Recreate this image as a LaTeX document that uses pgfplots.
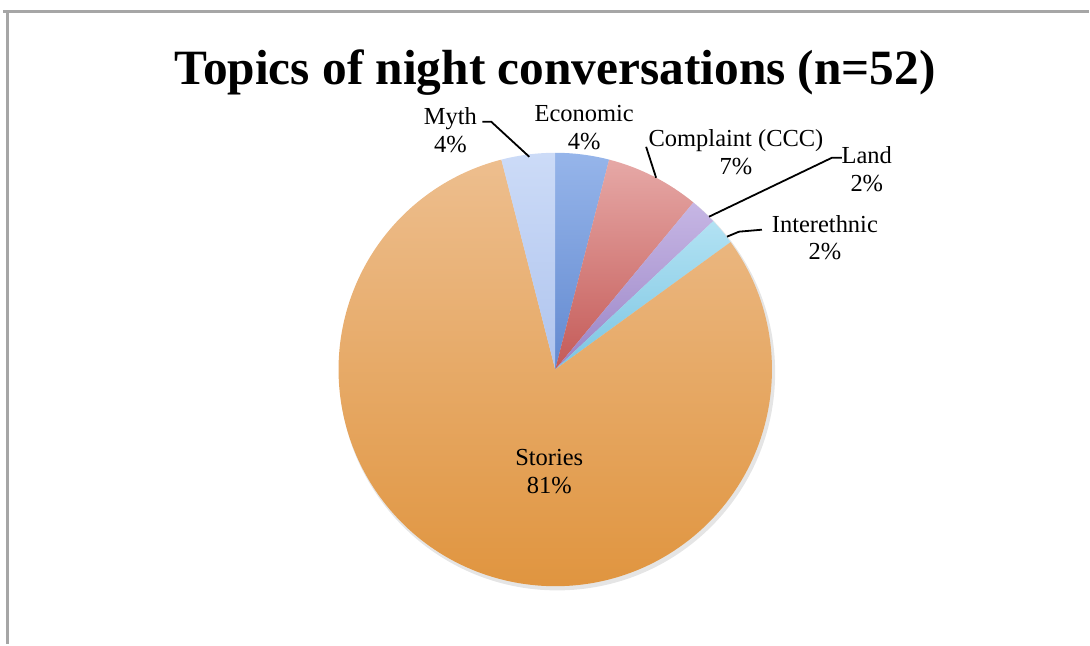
\documentclass[border=0pt]{standalone}
\usepackage{pgfplots}
\pgfplotsset{compat=1.18}
\usepackage{fontspec}
\setmainfont{Liberation Serif}

\definecolor{storyT}{HTML}{EDBE8E}
\definecolor{storyB}{HTML}{DF923A}
\definecolor{mythT}{HTML}{CCDBF7}
\definecolor{mythB}{HTML}{AFC4EE}
\definecolor{econT}{HTML}{96B5EA}
\definecolor{econB}{HTML}{6289D0}
\definecolor{complT}{HTML}{E6A8A6}
\definecolor{complB}{HTML}{C45A57}
\definecolor{landT}{HTML}{C6B6E4}
\definecolor{landB}{HTML}{9A84C6}
\definecolor{interT}{HTML}{B2E2F3}
\definecolor{interB}{HTML}{7CC5E2}

% pie centre (pixels) and radius
\newcommand{\cx}{556}
\newcommand{\cy}{370}
\newcommand{\R}{108.5bp}
% #1 percent before this slice, #2 percent of slice, #3/#4 top/bottom colour
\newcommand{\slice}[4]{%
  \shade[top color=#3, bottom color=#4]
    (axis cs:\cx,\cy) -- ++({90-3.6*#1}:\R)
    arc[start angle={90-3.6*#1}, end angle={90-3.6*(#1+#2)}, radius=\R] -- cycle;
}

\begin{document}
\begin{tikzpicture}
\begin{axis}[
    width=545bp, height=322.5bp, scale only axis,
    xmin=0, xmax=1090, ymin=0, ymax=645, y dir=reverse,
    hide axis, clip=false,
]
    % keep the whole canvas as bounding box
    \path (axis cs:0,0) rectangle (axis cs:1090,645);

    % frame of the chart area
    \draw[gray!70, line width=1.5bp] (axis cs:3,12) -- (axis cs:1090,12);
    \draw[gray!70, line width=1.5bp] (axis cs:8,12) -- (axis cs:8,645);

    \node[font=\bfseries\fontsize{24.8}{28}\selectfont] at (axis cs:556,73)
        {Topics of night conversations (n=52)};

    % soft shadow
    \fill[black, opacity=0.10] (axis cs:558,373) circle[radius=\R+0.6bp];

    % slices, clockwise from 12 o'clock
    \slice{0}{4}{econT}{econB}
    \slice{4}{7}{complT}{complB}
    \slice{11}{2}{landT}{landB}
    \slice{13}{2}{interT}{interB}
    \slice{15}{81}{storyT}{storyB}
    \slice{96}{4}{mythT}{mythB}

    % labels
    \begin{scope}[every node/.style={font=\fontsize{12.3}{14}\selectfont, align=center, inner sep=0pt}]
    \node at (axis cs:451,130) {Myth\\4\%};
    \node at (axis cs:585,128) {Economic\\4\%};
    \node at (axis cs:737,152) {Complaint (CCC)\\7\%};
    \node at (axis cs:868,169) {Land\\2\%};
    \node at (axis cs:826,238) {Interethnic\\2\%};
    \node at (axis cs:550,472) {Stories\\81\%};
    \end{scope}

    % leader lines
    \begin{scope}[line width=0.9bp]
    \draw (axis cs:483,122) -- (axis cs:492,122) -- (axis cs:530,157);
    \draw (axis cs:647,147) -- (axis cs:657,178);
    \draw (axis cs:710,217) -- (axis cs:833,158) -- (axis cs:843,158);
    \draw (axis cs:728,237) -- (axis cs:740,232) -- (axis cs:763,230);
    \end{scope}
\end{axis}
\end{tikzpicture}
\end{document}
